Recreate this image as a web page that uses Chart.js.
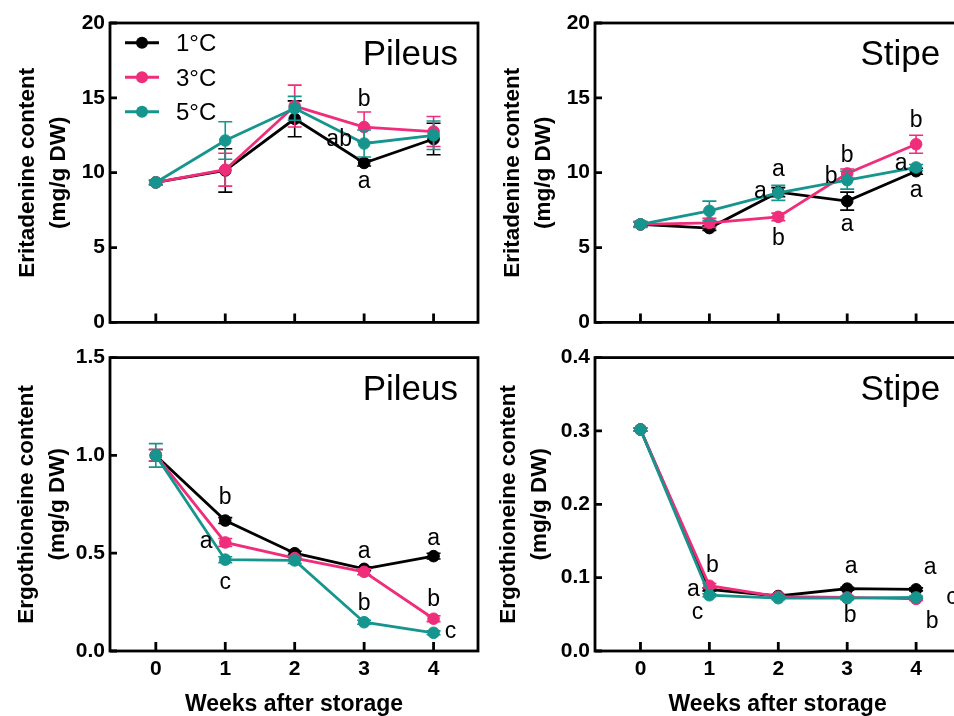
<!DOCTYPE html>
<html>
<head>
<meta charset="utf-8">
<script src="https://cdn.jsdelivr.net/npm/chart.js@4.4.1/dist/chart.umd.min.js"></script>
<style>
  html, body { margin: 0; padding: 0; background: #fff; overflow: hidden; }
  #wrap { position: relative; width: 954px; height: 716px; overflow: hidden; }
  canvas { position: absolute; }
</style>
</head>
<body>
<div id="wrap">
  <canvas id="eritPileus" width="490" height="340" style="left:0;top:0"></canvas>
  <canvas id="eritStipe" width="490" height="340" style="left:477px;top:0"></canvas>
  <canvas id="ergoPileus" width="490" height="376" style="left:0;top:340px"></canvas>
  <canvas id="ergoStipe" width="490" height="376" style="left:477px;top:340px"></canvas>
</div>
<script>
// weeks after storage and the three storage temperatures
const weeks = [0, 1, 2, 3, 4];
const seriesNames = ['1°C', '3°C', '5°C'];
const seriesColors = ['#000000', '#ef2d7a', '#16958f'];

// Eritadenine, pileus (mg/g DW) and error bars
const eritPileus1 = [9.35, 10.15, 13.6, 10.65, 12.25];
const eritPileus3 = [9.35, 10.2, 14.45, 13.05, 12.75];
const eritPileus5 = [9.35, 12.15, 14.3, 11.95, 12.5];
const eritPileusErr1 = [0.15, 1.45, 1.2, 0.2, 1.05];
const eritPileusErr3 = [0.1, 1.1, 1.4, 1.0, 1.0];
const eritPileusErr5 = [0.15, 1.25, 0.8, 0.9, 0.95];

// Eritadenine, stipe
const eritStipe1 = [6.55, 6.3, 8.7, 8.1, 10.1];
const eritStipe3 = [6.55, 6.65, 7.05, 9.95, 11.9];
const eritStipe5 = [6.55, 7.45, 8.65, 9.5, 10.35];
const eritStipeErr1 = [0.15, 0.15, 0.3, 0.6, 0.2];
const eritStipeErr3 = [0.15, 0.3, 0.25, 0.3, 0.6];
const eritStipeErr5 = [0.2, 0.65, 0.5, 0.6, 0.2];

// Ergothioneine, pileus
const ergoPileus1 = [1.0, 0.667, 0.5, 0.42, 0.485];
const ergoPileus3 = [1.0, 0.555, 0.475, 0.405, 0.165];
const ergoPileus5 = [1.0, 0.467, 0.463, 0.147, 0.093];
const ergoPileusErr1 = [0.03, 0.015, 0.01, 0.01, 0.015];
const ergoPileusErr3 = [0.03, 0.02, 0.01, 0.015, 0.015];
const ergoPileusErr5 = [0.06, 0.015, 0.015, 0.01, 0.01];

// Ergothioneine, stipe
const ergoStipe1 = [0.302, 0.084, 0.075, 0.085, 0.084];
const ergoStipe3 = [0.302, 0.089, 0.074, 0.073, 0.071];
const ergoStipe5 = [0.302, 0.076, 0.072, 0.072, 0.073];
const ergoStipeErr1 = [0.002, 0.002, 0.002, 0.002, 0.002];
const ergoStipeErr3 = [0.002, 0.003, 0.002, 0.002, 0.002];
const ergoStipeErr5 = [0.002, 0.002, 0.002, 0.002, 0.002];

// y tick labels
const eritTicks = [0, 5, 10, 15, 20];
const ergoPileusTicks = [0, 0.5, 1.0, 1.5];
const ergoStipeTicks = [0, 0.1, 0.2, 0.3, 0.4];

// significance letters: [week, series index, text, dx, dy]
const eritPileusLetters = [[3, 1, 'b', 0, -21], [3, 2, 'ab', -25, 2], [3, 0, 'a', 0, 25]];
const eritStipeLetters = [
  [2, 2, 'a', 0, -17], [2, 0, 'a', -18, 6], [2, 1, 'b', 0, 28],
  [3, 1, 'b', 0, -11], [3, 2, 'b', -16, 3], [3, 0, 'a', 0, 30],
  [4, 1, 'b', 0, -17], [4, 2, 'a', -15, 3], [4, 0, 'a', 0, 26]
];
const ergoPileusLetters = [
  [1, 0, 'b', 0, -17], [1, 1, 'a', -19, 6], [1, 2, 'c', 0, 29],
  [3, 0, 'a', 0, -11], [3, 2, 'b', 0, -12],
  [4, 0, 'a', 0, -11], [4, 1, 'b', 0, -13], [4, 2, 'c', 17, 5]
];
const ergoStipeLetters = [
  [1, 1, 'b', 3, -14], [1, 0, 'a', -16, 7], [1, 2, 'c', -12, 24],
  [3, 0, 'a', 4, -16], [3, 2, 'b', 3, 24],
  [4, 0, 'a', 14, -15], [4, 1, 'b', 16, 29], [4, 2, 'c', 36, 7]
];

const FONT = "'Liberation Sans', Arial, sans-serif";

// error bars, frame, inward ticks, panel name, letters and legend
const decorPlugin = {
  id: 'decor',
  beforeDatasetDraw(chart, args, opts) {
    const ctx = chart.ctx;
    const xs = chart.scales.x, ys = chart.scales.y;
    const errs = opts.errors[args.index];
    const vals = opts.values[args.index];
    ctx.save();
    ctx.strokeStyle = seriesColors[args.index];
    ctx.lineWidth = 1.6;
    weeks.forEach((w, i) => {
      const x = xs.getPixelForValue(w);
      const yTop = ys.getPixelForValue(vals[i] + errs[i]);
      const yBot = ys.getPixelForValue(vals[i] - errs[i]);
      ctx.beginPath();
      ctx.moveTo(x, yTop); ctx.lineTo(x, yBot);
      ctx.moveTo(x - 7, yTop); ctx.lineTo(x + 7, yTop);
      ctx.moveTo(x - 7, yBot); ctx.lineTo(x + 7, yBot);
      ctx.stroke();
    });
    ctx.restore();
  },
  afterDraw(chart, args, opts) {
    const ctx = chart.ctx;
    const a = chart.chartArea;
    const xs = chart.scales.x, ys = chart.scales.y;
    ctx.save();
    ctx.strokeStyle = '#000';
    ctx.lineWidth = 2.8;
    ctx.strokeRect(a.left, a.top, a.right - a.left, a.bottom - a.top);
    ctx.beginPath();
    xs.ticks.forEach(t => {
      const x = xs.getPixelForValue(t.value);
      ctx.moveTo(x, a.bottom); ctx.lineTo(x, a.bottom - 9);
    });
    ys.ticks.forEach(t => {
      const y = ys.getPixelForValue(t.value);
      ctx.moveTo(a.left, y); ctx.lineTo(a.left + 7, y);
    });
    ctx.stroke();

    ctx.fillStyle = '#000';
    ctx.textBaseline = 'alphabetic';
    ctx.font = '35px ' + FONT;
    ctx.textAlign = 'right';
    ctx.fillText(opts.name, a.right - 20, a.top + 42);

    ctx.font = '23px ' + FONT;
    ctx.textAlign = 'center';
    opts.letters.forEach(([w, s, txt, dx, dy]) => {
      const x = xs.getPixelForValue(w) + dx;
      const y = ys.getPixelForValue(opts.values[s][w]) + dy;
      ctx.fillText(txt, x, y);
    });

    if (opts.legend) {
      ctx.font = '24px ' + FONT;
      ctx.textAlign = 'left';
      seriesNames.forEach((name, i) => {
        const y = a.top + 19.7 + i * 34.5;
        ctx.strokeStyle = seriesColors[i];
        ctx.fillStyle = seriesColors[i];
        ctx.lineWidth = 3;
        ctx.beginPath();
        ctx.moveTo(a.left + 15, y); ctx.lineTo(a.left + 49, y);
        ctx.stroke();
        ctx.beginPath();
        ctx.arc(a.left + 32, y, 6, 0, Math.PI * 2);
        ctx.fill();
        ctx.fillStyle = '#000';
        ctx.fillText(name, a.left + 66, y + 8.6);
      });
    }
    ctx.restore();
  }
};

function makePanel(id, cfg) {
  const datasets = cfg.values.map((vals, i) => ({
    label: seriesNames[i],
    data: weeks.map((w, j) => ({ x: w, y: vals[j] })),
    borderColor: seriesColors[i],
    backgroundColor: seriesColors[i],
    borderWidth: 2.8,
    pointRadius: 5.8,
    pointBorderWidth: 1,
    pointBackgroundColor: seriesColors[i],
    pointBorderColor: seriesColors[i],
    tension: 0,
    clip: false,
    order: 3 - i
  }));
  return new Chart(document.getElementById(id), {
    type: 'line',
    data: { datasets },
    options: {
      responsive: false,
      animation: false,
      events: [],
      layout: { padding: { top: cfg.padTop, right: cfg.padRight, left: 0, bottom: 0 } },
      scales: {
        x: {
          type: 'linear',
          min: -0.66,
          max: 4.64,
          grid: { display: false, drawTicks: false },
          border: { display: false },
          afterBuildTicks: s => { s.ticks = weeks.map(v => ({ value: v })); },
          afterFit: s => { s.height = cfg.xHeight; },
          ticks: {
            display: cfg.xLabels,
            padding: 6,
            color: '#000',
            font: { family: FONT, size: 21, weight: 'bold' }
          },
          title: {
            display: cfg.xLabels,
            text: 'Weeks after storage',
            color: '#000',
            padding: { top: 0, bottom: 0 },
            font: { family: FONT, size: 23, weight: 'bold', lineHeight: 1.0 }
          }
        },
        y: {
          type: 'linear',
          min: 0,
          max: cfg.yTicks[cfg.yTicks.length - 1],
          grid: { display: false, drawTicks: false },
          border: { display: false },
          afterBuildTicks: s => { s.ticks = cfg.yTicks.map(v => ({ value: v })); },
          afterFit: s => { s.width = cfg.yWidth; },
          ticks: {
            padding: 5,
            color: '#000',
            font: { family: FONT, size: 21, weight: 'bold' },
            callback: v => v.toFixed(cfg.yDecimals)
          },
          title: {
            display: true,
            text: cfg.yTitle,
            color: '#000',
            padding: { top: cfg.titlePad, bottom: 0 },
            font: { family: FONT, size: 22.5, weight: 'bold', lineHeight: 1.39 }
          }
        }
      },
      plugins: {
        legend: { display: false },
        tooltip: { enabled: false },
        decor: {
          values: cfg.values,
          errors: cfg.errors,
          letters: cfg.letters,
          name: cfg.name,
          legend: cfg.legend
        }
      }
    },
    plugins: [decorPlugin]
  });
}

makePanel('eritPileus', {
  values: [eritPileus1, eritPileus3, eritPileus5],
  errors: [eritPileusErr1, eritPileusErr3, eritPileusErr5],
  yTicks: eritTicks, yDecimals: 0,
  yTitle: ['Eritadenine content', '(mg/g DW)'],
  letters: eritPileusLetters, name: 'Pileus', legend: true,
  xLabels: false, yWidth: 110, xHeight: 17, padTop: 23, padRight: 12, titlePad: 12
});

makePanel('eritStipe', {
  values: [eritStipe1, eritStipe3, eritStipe5],
  errors: [eritStipeErr1, eritStipeErr3, eritStipeErr5],
  yTicks: eritTicks, yDecimals: 0,
  yTitle: ['Eritadenine content', '(mg/g DW)'],
  letters: eritStipeLetters, name: 'Stipe', legend: false,
  xLabels: false, yWidth: 118, xHeight: 17, padTop: 23, padRight: 4, titlePad: 20
});

makePanel('ergoPileus', {
  values: [ergoPileus1, ergoPileus3, ergoPileus5],
  errors: [ergoPileusErr1, ergoPileusErr3, ergoPileusErr5],
  yTicks: ergoPileusTicks, yDecimals: 1,
  yTitle: ['Ergothioneine content', '(mg/g DW)'],
  letters: ergoPileusLetters, name: 'Pileus', legend: false,
  xLabels: true, yWidth: 110, xHeight: 65, padTop: 11, padRight: 12, titlePad: 11
});

makePanel('ergoStipe', {
  values: [ergoStipe1, ergoStipe3, ergoStipe5],
  errors: [ergoStipeErr1, ergoStipeErr3, ergoStipeErr5],
  yTicks: ergoStipeTicks, yDecimals: 1,
  yTitle: ['Ergothioneine content', '(mg/g DW)'],
  letters: ergoStipeLetters, name: 'Stipe', legend: false,
  xLabels: true, yWidth: 118, xHeight: 65, padTop: 11, padRight: 4, titlePad: 16
});
</script>
</body>
</html>
